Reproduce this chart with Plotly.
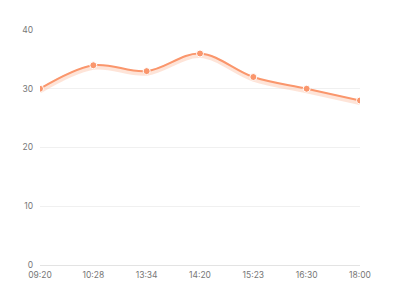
import plotly.graph_objects as go

categories = ["09:20", "10:28", "13:34", "14:20", "15:23", "16:30", "18:00"]
values = [30, 34, 33, 36, 32, 30, 28]
y_ticks = [0, 10, 20, 30, 40]

line_color = "rgb(250,150,108)"
shadow_offset = 0.35  # approx 2px visual drop shadow

fig = go.Figure()
fig.add_trace(go.Scatter(
    x=categories, y=[v - shadow_offset for v in values], mode="lines",
    line=dict(color="rgba(252,195,168,0.45)", width=5, shape="spline", smoothing=1),
    hoverinfo="skip", showlegend=False,
))
fig.add_trace(go.Scatter(
    x=categories, y=values, mode="lines+markers",
    line=dict(color=line_color, width=2, shape="spline", smoothing=1),
    marker=dict(size=7, color=line_color, line=dict(color="white", width=1)),
    showlegend=False,
))
fig.update_layout(
    width=400, height=300,
    margin=dict(l=40, r=40, t=30, b=35),
    paper_bgcolor="white", plot_bgcolor="white",
    font=dict(family="Inter, Roboto, sans-serif", size=9, color="#777"),
    xaxis=dict(type="category", range=[0, 6], showgrid=False, zeroline=False,
               showline=False, ticks="", ticklabelstandoff=3,
               tickfont=dict(size=8.5, color="#777")),
    yaxis=dict(range=[0, 40], tickvals=y_ticks, showgrid=True, gridcolor="#f0f0f0",
               gridwidth=1, zeroline=True, zerolinecolor="#e3e3e3", zerolinewidth=1,
               showline=False, ticks="", ticklabelstandoff=6, tickfont=dict(size=8.5, color="#777")),
)
fig.write_html("out.html")
